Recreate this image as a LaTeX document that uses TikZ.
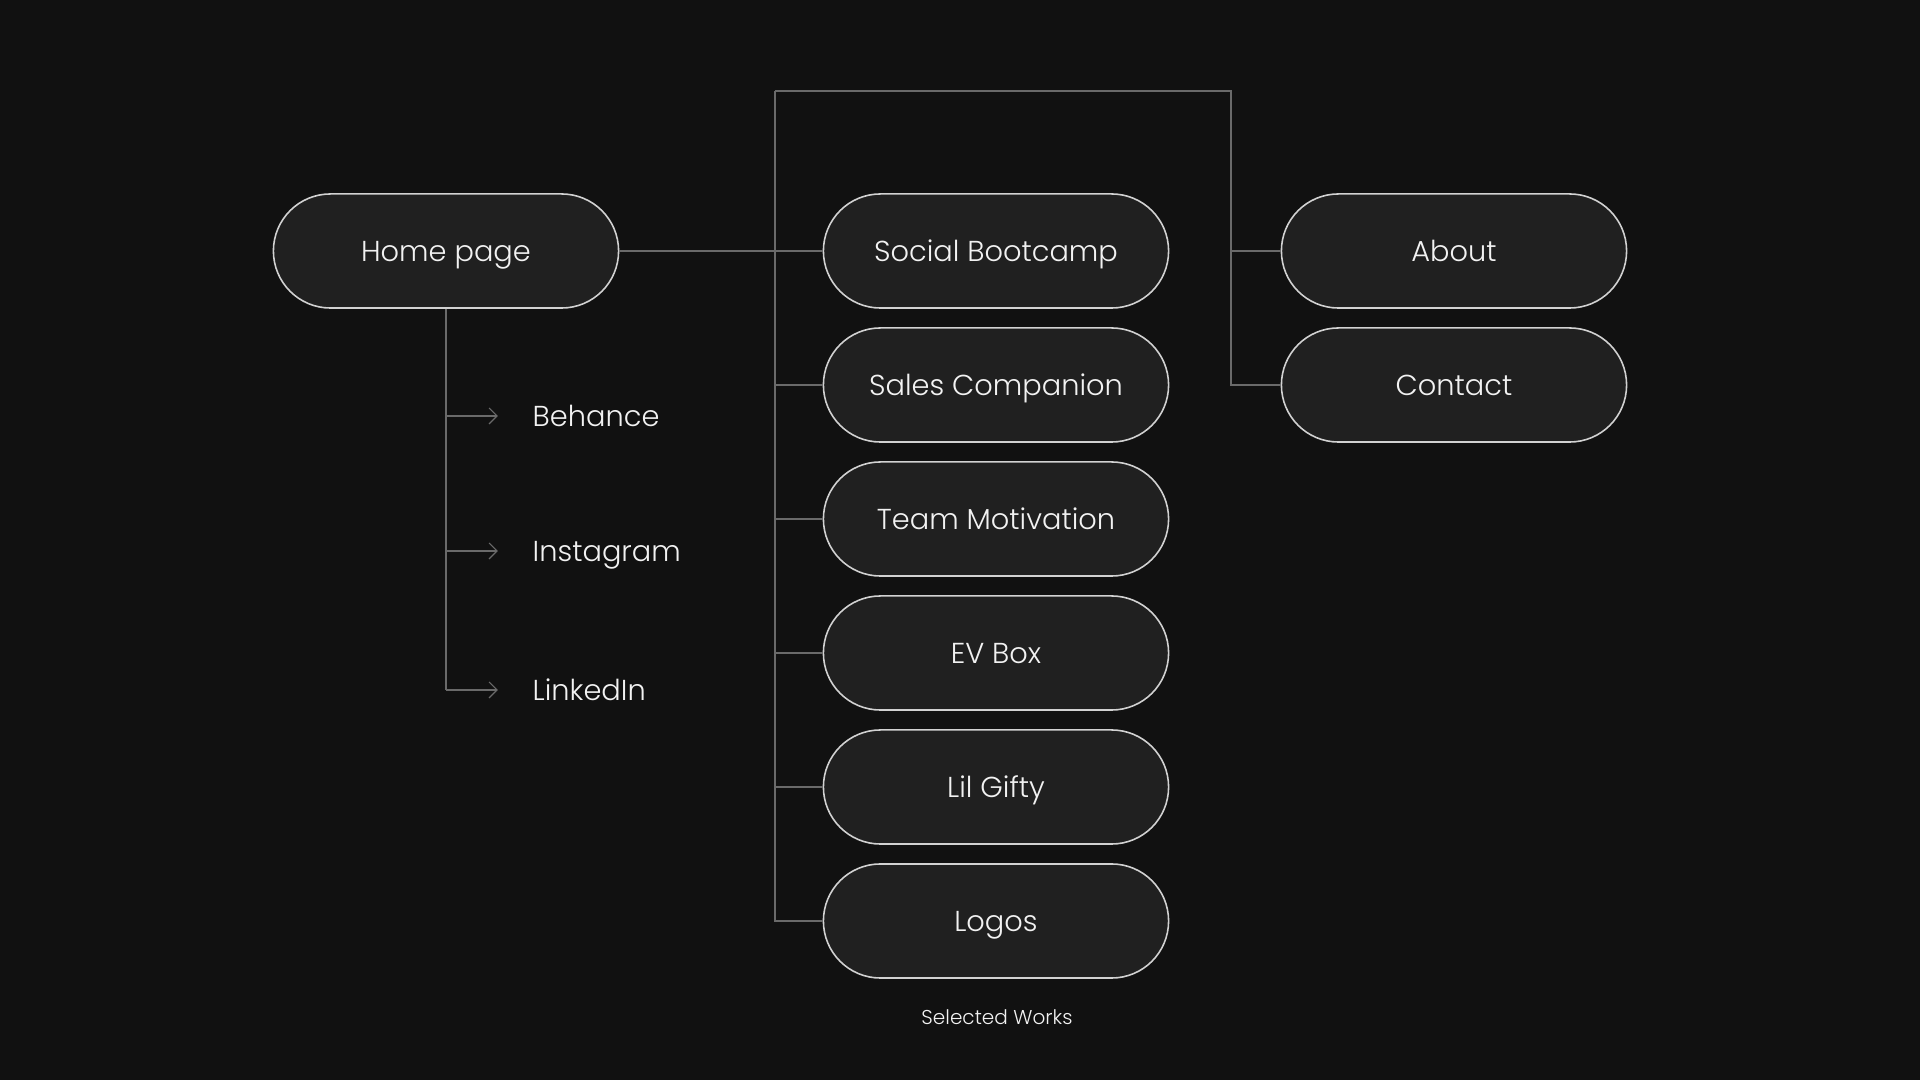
\documentclass[tikz,border=0pt]{standalone}
\usepackage{fontspec}
\setmainfont{Poppins}[UprightFont=* Light]
\usetikzlibrary{arrows.meta}
\definecolor{fond}{HTML}{111111}
\definecolor{bloc}{HTML}{202020}
\definecolor{bord}{HTML}{D2D2D2}
\definecolor{trait}{HTML}{6A6A6A}
\definecolor{texte}{HTML}{F2F2F2}

\begin{document}
\begin{tikzpicture}[x=0.01cm, y=-0.01cm,
    page/.style={draw=bord, fill=bloc, line width=0.45pt, rounded corners=0.57cm,
      minimum width=3.45cm, minimum height=1.14cm, text=texte,
      font=\fontsize{8.2}{10}\selectfont, text height=0.6em, text depth=0pt},
    reseau/.style={anchor=west, inner sep=0pt, text=texte,
      font=\fontsize{8.2}{10}\selectfont, text height=0.6em, text depth=0pt},
    lien/.style={draw=trait, line width=0.35pt},
    fleche/.style={lien, -{Straight Barb[length=0.8mm,width=1.6mm]}}]
    % Fond
    \fill[fond] (0,0) rectangle (1920,1080);
    % Pages
    \node[page] (home)    at (446,251)  {Home page};
    \node[page] (social)  at (996,251)  {Social Bootcamp};
    \node[page] (sales)   at (996,385)  {Sales Companion};
    \node[page] (team)    at (996,519)  {Team Motivation};
    \node[page] (evbox)   at (996,653)  {EV Box};
    \node[page] (gifty)   at (996,787)  {Lil Gifty};
    \node[page] (logos)   at (996,921)  {Logos};
    \node[page] (about)   at (1454,251) {About};
    \node[page] (contact) at (1454,385) {Contact};
    % Reseaux
    \node[reseau] (behance)   at (532,416) {Behance};
    \node[reseau] (instagram) at (532,551) {Instagram};
    \node[reseau] (linkedin)  at (532,690) {LinkedIn};
    % Legende
    \node[text=texte, font=\fontsize{5.7}{7}\selectfont] (works) at (997,1017) {Selected Works};
    % Lignes
    \coordinate (tronc) at (775,91);
    \coordinate (coin)  at (1231,91);
    \draw[lien] (home.east) -- (social.west);
    \draw[lien] (tronc) |- (logos.west);
    \draw[lien] (sales.west) -- (sales.west -| tronc);
    \draw[lien] (team.west) -- (team.west -| tronc);
    \draw[lien] (evbox.west) -- (evbox.west -| tronc);
    \draw[lien] (gifty.west) -- (gifty.west -| tronc);
    \draw[lien] (tronc) -- (coin) |- (contact.west);
    \draw[lien] (about.west) -- (about.west -| coin);
    % Fleches
    \draw[lien] (home.south) -- (home.south |- linkedin.west);
    \draw[fleche] (home.south |- behance.west) -- ([xshift=-0.34cm]behance.west);
    \draw[fleche] (home.south |- instagram.west) -- ([xshift=-0.34cm]instagram.west);
    \draw[fleche] (home.south |- linkedin.west) -- ([xshift=-0.34cm]linkedin.west);
\end{tikzpicture}
\end{document}
